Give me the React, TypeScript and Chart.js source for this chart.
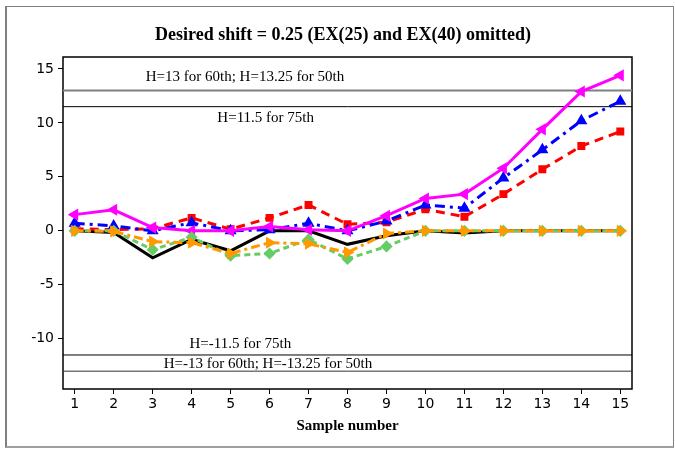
import React, { useEffect, useRef } from "react";
import { Chart, registerables } from "chart.js";
Chart.register(...registerables);

const samples = [1, 2, 3, 4, 5, 6, 7, 8, 9, 10, 11, 12, 13, 14, 15];
const blackSeries = [0, -0.15, -2.5, -0.8, -1.85, 0, 0, -1.25, -0.45, 0, -0.2, 0, 0, 0, 0];
const redSeries = [0.2, 0.1, 0.2, 1.2, 0.15, 1.2, 2.4, 0.6, 0.8, 2.0, 1.3, 3.4, 5.7, 7.85, 9.2];
const blueSeries = [0.7, 0.45, 0, 0.75, 0, 0.1, 0.7, 0, 0.9, 2.4, 2.1, 4.9, 7.5, 10.2, 12.0];
const magentaSeries = [1.5, 1.95, 0.3, 0, 0, 0.4, 0.1, 0, 1.4, 3.0, 3.4, 5.8, 9.4, 12.9, 14.4];
const greenSeries = [0, 0, -1.75, -0.6, -2.3, -2.1, -0.8, -2.6, -1.45, 0, 0, 0, 0, 0, 0];
const orangeSeries = [0, -0.05, -1.0, -1.1, -2.1, -1.1, -1.2, -2.0, -0.25, 0, 0, 0, 0, 0, 0];

const limitValues = [13, 11.5, -11.5, -13];
const limitColors = ["#808080", "#000000", "#000000", "#333333"];
const limitWidths = [2, 1, 1, 1];

const limitLabels = [
  "H=13 for 60th; H=13.25 for 50th",
  "H=11.5 for 75th",
  "H=-11.5 for 75th",
  "H=-13 for 60th; H=-13.25 for 50th",
];
const labelX = [5.37, 5.9, 5.25, 5.96];
const labelY = [14.2, 10.4, -10.5, -12.35];

const yTickValues = [-10, -5, 0, 5, 10, 15];
const xMin = 0.7;
const xMax = 15.3;
const yMin = -14.65;
const yMax = 16.1;

const titleText = "Desired shift = 0.25 (EX(25) and EX(40) omitted)";
const xTitle = "Sample number";

const toPoints = (arr: number[]) => arr.map((v, i) => ({ x: samples[i], y: v }));

export default function App() {
  const ref = useRef<HTMLCanvasElement | null>(null);
  useEffect(() => {
    if (!ref.current) return;
    const overlay = {
      id: "overlay",
      beforeDatasetsDraw(chart: any) {
        const { ctx, chartArea } = chart;
        ctx.save();
        ctx.strokeStyle = "#000";
        ctx.lineWidth = 1.5;
        ctx.strokeRect(chartArea.left, chartArea.top, chartArea.right - chartArea.left, chartArea.bottom - chartArea.top);
        ctx.restore();
      },
      afterDraw(chart: any) {
        const { ctx, scales } = chart;
        ctx.save();
        ctx.fillStyle = "#000";
        ctx.textAlign = "center";
        ctx.textBaseline = "middle";
        ctx.font = "bold 18px 'Liberation Serif'";
        ctx.fillText(titleText, 343, 35);
        ctx.font = "15px 'Liberation Serif'";
        limitLabels.forEach((t, i) => {
          ctx.fillText(t, scales.x.getPixelForValue(labelX[i]), scales.y.getPixelForValue(labelY[i]));
        });
        ctx.restore();
      },
    };

    const limitSets = limitValues.map((v, i) => ({
      data: [
        { x: xMin, y: v },
        { x: xMax, y: v },
      ],
      borderColor: limitColors[i],
      borderWidth: limitWidths[i],
      pointRadius: 0,
      order: 10,
    }));

    const chart = new Chart(ref.current, {
      type: "line",
      data: {
        datasets: [
          ...limitSets,
          {
            data: toPoints(blackSeries),
            borderColor: "#000000",
            backgroundColor: "#000000",
            borderWidth: 3,
            pointRadius: 0,
            order: 6,
          },
          {
            data: toPoints(redSeries),
            borderColor: "#FF0000",
            backgroundColor: "#FF0000",
            borderWidth: 3,
            borderDash: [9, 6],
            pointStyle: "rect",
            pointRadius: 3.5,
            order: 5,
          },
          {
            data: toPoints(blueSeries),
            borderColor: "#0000FF",
            backgroundColor: "#0000FF",
            borderWidth: 3,
            borderDash: [10, 5, 3, 5],
            pointStyle: "triangle",
            pointRadius: 4,
            order: 4,
          },
          {
            data: toPoints(magentaSeries),
            borderColor: "#FF00FF",
            backgroundColor: "#FF00FF",
            borderWidth: 3,
            pointStyle: "triangle",
            pointRotation: 270,
            pointRadius: 4,
            order: 3,
          },
          {
            data: toPoints(greenSeries),
            borderColor: "#66CC66",
            backgroundColor: "#66CC66",
            borderWidth: 3,
            borderDash: [6, 4],
            pointStyle: "rectRot",
            pointRadius: 4,
            order: 2,
          },
          {
            data: toPoints(orangeSeries),
            borderColor: "#FF9900",
            backgroundColor: "#FF9900",
            borderWidth: 3,
            borderDash: [9, 4, 3, 4],
            pointStyle: "triangle",
            pointRotation: 90,
            pointRadius: 4,
            order: 1,
          },
        ],
      },
      options: {
        animation: false,
        responsive: false,
        maintainAspectRatio: false,
        layout: { padding: { left: 0, right: 43, top: 57, bottom: 0 } },
        plugins: { legend: { display: false }, tooltip: { enabled: false }, title: { display: false } },
        elements: { line: { tension: 0 }, point: { borderWidth: 0 } },
        scales: {
          x: {
            type: "linear",
            min: xMin,
            max: xMax,
            afterBuildTicks: (s: any) => {
              s.ticks = samples.map((v) => ({ value: v }));
            },
            afterFit: (s: any) => {
              s.height = 62;
            },
            border: { display: false },
            grid: { drawOnChartArea: false, tickLength: 5, color: "#000", lineWidth: 1 },
            ticks: {
              color: "#000",
              padding: 2,
              maxRotation: 0,
              autoSkip: false,
              font: { family: "'DejaVu Sans'", size: 14 },
            },
            title: {
              display: true,
              text: xTitle,
              color: "#000",
              font: { family: "'Liberation Serif'", size: 15, weight: "bold" },
              padding: { top: 0, bottom: 16 },
            },
          },
          y: {
            type: "linear",
            min: yMin,
            max: yMax,
            afterBuildTicks: (s: any) => {
              s.ticks = yTickValues.map((v) => ({ value: v }));
            },
            afterFit: (s: any) => {
              s.width = 63;
            },
            border: { display: false },
            grid: { drawOnChartArea: false, tickLength: 5, color: "#000", lineWidth: 1 },
            ticks: {
              color: "#000",
              padding: 4,
              font: { family: "'DejaVu Sans'", size: 14 },
            },
          },
        },
      },
      plugins: [overlay],
    } as any);
    return () => chart.destroy();
  }, []);

  return (
    <div style={{ position: "absolute", left: 0, top: 0, width: 675, height: 451, background: "#fff" }}>
      <div
        style={{
          position: "absolute",
          left: 5,
          top: 6,
          width: 666,
          height: 439,
          borderLeft: "2px solid #808080",
          borderTop: "1px solid #808080",
          borderRight: "1px solid #808080",
          borderBottom: "2px solid #a0a0a0",
        }}
      />
      <canvas ref={ref} width={675} height={451} style={{ position: "absolute", left: 0, top: 0, width: 675, height: 451 }} />
    </div>
  );
}
